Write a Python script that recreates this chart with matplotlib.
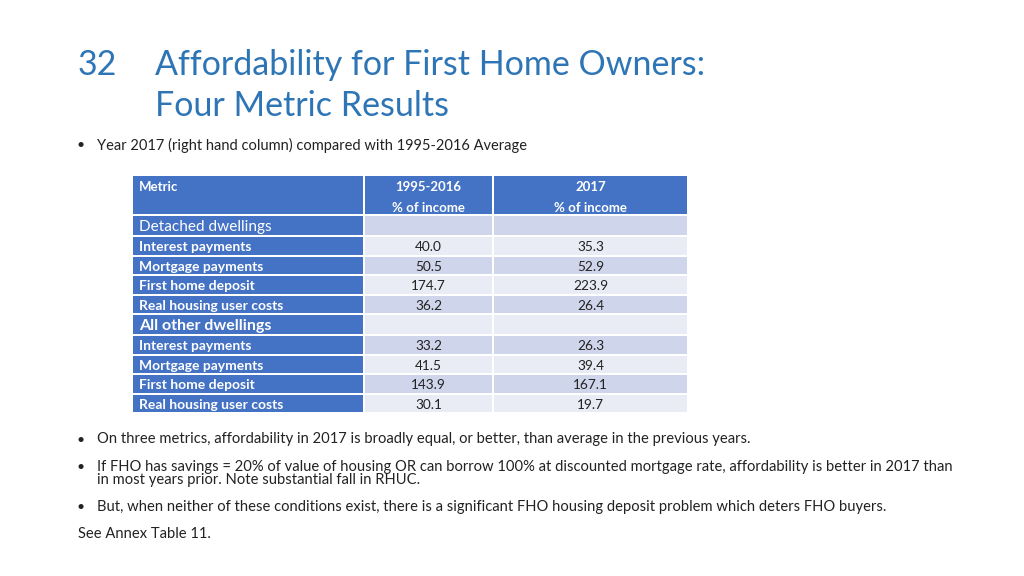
import matplotlib
matplotlib.use('Agg')
import matplotlib.pyplot as plt
from matplotlib.patches import Rectangle

plt.rcParams['font.family'] = ['Lato', 'DejaVu Sans']

# table content
header_metric = "Metric"
header_cols = [("1995-2016", "% of income"), ("2017", "% of income")]
row_labels = ["Detached dwellings", "Interest payments", "Mortgage payments",
              "First home deposit", "Real housing user costs",
              "All other dwellings", "Interest payments", "Mortgage payments",
              "First home deposit", "Real housing user costs"]
avg_1995_2016 = [None, 40.0, 50.5, 174.7, 36.2, None, 33.2, 41.5, 143.9, 30.1]
val_2017 = [None, 35.3, 52.9, 223.9, 26.4, None, 26.3, 39.4, 167.1, 19.7]

title_num = "32"
title_lines = ["Affordability for First Home Owners:", "Four Metric Results"]
intro = "Year 2017 (right hand column) compared with 1995-2016 Average"
bullets = [
    "On three metrics, affordability in 2017 is broadly equal, or better, than average in the previous years.",
    "If FHO has savings = 20% of value of housing OR can borrow 100% at discounted mortgage rate, affordability is better in 2017 than\nin most years prior. Note substantial fall in RHUC.",
    "But, when neither of these conditions exist, there is a significant FHO housing deposit problem which deters FHO buyers.",
]
footer = "See Annex Table 11."

BLUE = '#4472C4'
TITLE_BLUE = '#2E75B6'
LIGHT = '#E9EBF5'
MID = '#CFD5EA'
TXT = '#222222'

fig = plt.figure(figsize=(10.24, 5.76), dpi=100)
ax = fig.add_axes([0, 0, 1, 1])
ax.set_xlim(0, 1024)
ax.set_ylim(576, 0)
ax.axis('off')

# title
ax.text(78, 65, title_num, fontsize=24.5, color=TITLE_BLUE, va='center')
ax.text(155, 65, title_lines[0], fontsize=24.5, color=TITLE_BLUE, va='center')
ax.text(155, 106, title_lines[1], fontsize=24.5, color=TITLE_BLUE, va='center')

ax.text(76, 145, "\u2022", fontsize=10, color=TXT, va='center')
ax.text(97, 145, intro, fontsize=10.5, color=TXT, va='center')

# table geometry
col_x = [133, 365, 494]
col_w = [230, 127, 193]
gap = 2
head_top, head_h = 176, 38
row_h = 19.5
sec_h = 21

for cx, cw in zip(col_x, col_w):
    ax.add_patch(Rectangle((cx, head_top), cw, head_h, color=BLUE, lw=0))
ax.text(col_x[0] + 6, head_top + 11, header_metric, fontsize=9.5, color='white',
        fontweight='bold', va='center')
for (l1, l2), cx, cw in zip(header_cols, col_x[1:], col_w[1:]):
    ax.text(cx + cw / 2, head_top + 11, l1, fontsize=9.5, color='white',
            fontweight='bold', va='center', ha='center')
    ax.text(cx + cw / 2, head_top + 32, l2, fontsize=9.5, color='white',
            fontweight='bold', va='center', ha='center')

y = head_top + head_h + 2
for i, (lab, a, b) in enumerate(zip(row_labels, avg_1995_2016, val_2017)):
    full = sec_h if a is None else row_h
    h = full - gap
    fill = MID if i % 2 == 0 else LIGHT
    ax.add_patch(Rectangle((col_x[0], y), col_w[0], h, color=BLUE, lw=0))
    ax.add_patch(Rectangle((col_x[1], y), col_w[1], h, color=fill, lw=0))
    ax.add_patch(Rectangle((col_x[2], y), col_w[2], h, color=fill, lw=0))
    yc = y + h / 2 + 1.5
    if a is None:
        bold = (i == 5)
        ax.text(col_x[0] + 6, yc, lab, fontsize=11.5 if bold else 11.1,
                color='white', fontweight='bold' if bold else 'normal',
                va='center')
    else:
        ax.text(col_x[0] + 6, yc, lab, fontsize=10, color='white',
                fontweight='bold', va='center')
        ax.text(col_x[1] + col_w[1] / 2, yc, f"{a:.1f}", fontsize=9.8,
                color=TXT, va='center', ha='center')
        ax.text(col_x[2] + col_w[2] / 2, yc, f"{b:.1f}", fontsize=9.8,
                color=TXT, va='center', ha='center')
    y += full

# bullets below table
for yb, txt in zip([440, 467, 507], bullets):
    ax.text(76, yb, "\u2022", fontsize=10, color=TXT, va='center')
    ax.text(97, yb - 7.5, txt, fontsize=10.6, color=TXT, va='top',
            linespacing=0.95)
ax.text(78, 534, footer, fontsize=10.6, color=TXT, va='center')

fig.savefig('out.png', dpi=100)
